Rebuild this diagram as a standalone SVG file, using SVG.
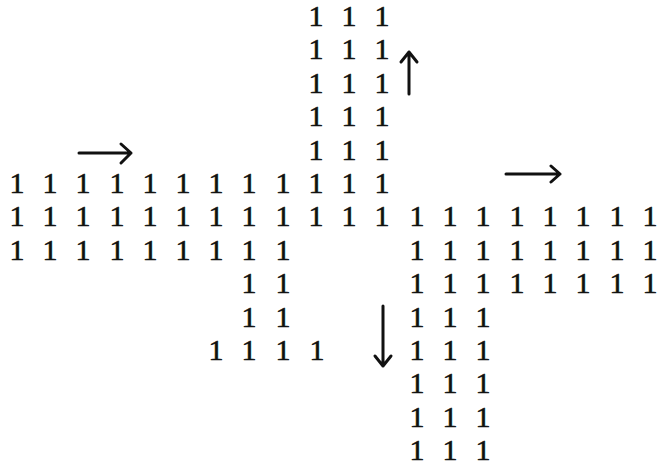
<svg xmlns="http://www.w3.org/2000/svg" width="659" height="464" viewBox="0 0 659 464">
<style>
text{font-family:"Liberation Serif","Times New Roman",serif;font-size:30px;fill:#111;stroke:#111;stroke-width:0.6;text-anchor:middle}
.a{fill:none;stroke:#111;stroke-width:3;stroke-linecap:round;stroke-linejoin:round}
</style>
<rect width="659" height="464" fill="#fff"/>
<g id="top">
<text x="316" y="26">1</text><text x="349" y="26">1</text><text x="382" y="26">1</text>
<text x="316" y="59">1</text><text x="349" y="59">1</text><text x="382" y="59">1</text>
<text x="316" y="93">1</text><text x="349" y="93">1</text><text x="382" y="93">1</text>
<text x="316" y="126">1</text><text x="349" y="126">1</text><text x="382" y="126">1</text>
<text x="316" y="160">1</text><text x="349" y="160">1</text><text x="382" y="160">1</text>
</g>
<g id="row5">
<text x="17" y="193">1</text><text x="50" y="193">1</text><text x="83" y="193">1</text><text x="117" y="193">1</text><text x="150" y="193">1</text><text x="183" y="193">1</text><text x="216" y="193">1</text><text x="249" y="193">1</text><text x="283" y="193">1</text><text x="316" y="193">1</text><text x="349" y="193">1</text><text x="382" y="193">1</text>
</g>
<g id="row6">
<text x="17" y="226">1</text><text x="50" y="226">1</text><text x="83" y="226">1</text><text x="117" y="226">1</text><text x="150" y="226">1</text><text x="183" y="226">1</text><text x="216" y="226">1</text><text x="249" y="226">1</text><text x="283" y="226">1</text><text x="316" y="226">1</text><text x="349" y="226">1</text><text x="382" y="226">1</text><text x="417" y="226">1</text><text x="450" y="226">1</text><text x="483" y="226">1</text><text x="517" y="226">1</text><text x="550" y="226">1</text><text x="583" y="226">1</text><text x="617" y="226">1</text><text x="650" y="226">1</text>
</g>
<g id="row7">
<text x="17" y="260">1</text><text x="50" y="260">1</text><text x="83" y="260">1</text><text x="117" y="260">1</text><text x="150" y="260">1</text><text x="183" y="260">1</text><text x="216" y="260">1</text><text x="249" y="260">1</text><text x="283" y="260">1</text>
<text x="417" y="260">1</text><text x="450" y="260">1</text><text x="483" y="260">1</text><text x="517" y="260">1</text><text x="550" y="260">1</text><text x="583" y="260">1</text><text x="617" y="260">1</text><text x="650" y="260">1</text>
</g>
<g id="row8">
<text x="249" y="293">1</text><text x="283" y="293">1</text>
<text x="417" y="293">1</text><text x="450" y="293">1</text><text x="483" y="293">1</text><text x="517" y="293">1</text><text x="550" y="293">1</text><text x="583" y="293">1</text><text x="617" y="293">1</text><text x="650" y="293">1</text>
</g>
<g id="row9">
<text x="249" y="327">1</text><text x="283" y="327">1</text>
<text x="417" y="327">1</text><text x="450" y="327">1</text><text x="483" y="327">1</text>
</g>
<g id="row10">
<text x="216" y="360">1</text><text x="249" y="360">1</text><text x="283" y="360">1</text><text x="317" y="360">1</text>
<text x="417" y="360">1</text><text x="450" y="360">1</text><text x="483" y="360">1</text>
</g>
<g id="bottom">
<text x="417" y="393">1</text><text x="450" y="393">1</text><text x="483" y="393">1</text>
<text x="417" y="427">1</text><text x="450" y="427">1</text><text x="483" y="427">1</text>
<text x="417" y="460">1</text><text x="450" y="460">1</text><text x="483" y="460">1</text>
</g>
<g id="connectors">
<path class="a" d="M79 153H131M121 144L131 153L121 163"/>
<path class="a" d="M506 174H560M551 166L560 174L551 182"/>
<path class="a" d="M409 94V52M401 62L409 52L417 62"/>
<path class="a" d="M383 306V366M375 356L383 366L391 356"/>
</g>
</svg>
